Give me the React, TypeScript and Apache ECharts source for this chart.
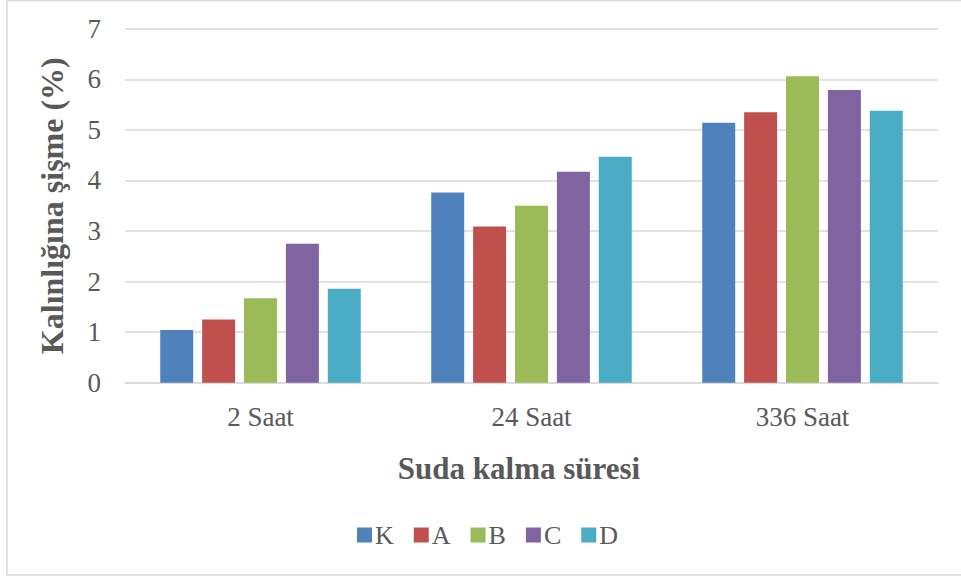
import React, { useEffect, useRef } from "react";
import * as echarts from "echarts";

const categories = ["2 Saat", "24 Saat", "336 Saat"];
const seriesNames = ["K", "A", "B", "C", "D"];
const valuesK = [1.04, 3.76, 5.14];
const valuesA = [1.25, 3.09, 5.35];
const valuesB = [1.67, 3.5, 6.06];
const valuesC = [2.75, 4.17, 5.79];
const valuesD = [1.86, 4.47, 5.38];
const yTicks = [0, 1, 2, 3, 4, 5, 6, 7];
const colors = ["#4f81bd", "#c0504d", "#9bbb59", "#8064a2", "#4bacc6"];

const FONT = '"Liberation Serif", "Times New Roman", serif';
const TEXT = "#595959";

export default function App() {
  const ref = useRef<HTMLDivElement>(null);
  useEffect(() => {
    if (!ref.current) return;
    const chart = echarts.init(ref.current, undefined, { renderer: "svg" });
    const allValues = [valuesK, valuesA, valuesB, valuesC, valuesD];
    chart.setOption({
      animation: false,
      backgroundColor: "#ffffff",
      textStyle: { fontFamily: FONT },
      grid: { left: 125, right: 23, top: 28.7, bottom: 196.3, containLabel: false },
      legend: {
        data: seriesNames,
        left: 352,
        top: 517,
        itemWidth: 15,
        itemHeight: 15,
        itemGap: 20,
        icon: "rect",
        textStyle: { fontFamily: FONT, fontSize: 26, color: TEXT, padding: [0, 0, 0, -2] },
      },
      xAxis: {
        type: "category",
        data: categories,
        axisTick: { show: false },
        axisLine: { lineStyle: { color: "#d9d9d9", width: 1.5 } },
        axisLabel: { fontFamily: FONT, fontSize: 27, color: TEXT, margin: 21 },
      },
      yAxis: {
        type: "value",
        min: yTicks[0],
        max: yTicks[yTicks.length - 1],
        interval: 1,
        name: "Kalınlığına şişme (%)",
        nameLocation: "middle",
        nameGap: 57,
        nameTextStyle: { fontFamily: FONT, fontSize: 32, fontWeight: "bold", color: TEXT },
        axisLine: { show: false },
        axisTick: { show: false },
        splitLine: { lineStyle: { color: "#d9d9d9", width: 1.5 } },
        axisLabel: { fontFamily: FONT, fontSize: 27, color: TEXT, margin: 24 },
      },
      series: seriesNames.map((name, i) => ({
        name,
        type: "bar",
        data: allValues[i],
        barGap: "27%",
        barCategoryGap: "26%",
        itemStyle: { color: colors[i] },
      })),
      graphic: [
        {
          type: "rect",
          shape: { x: 7, y: 0.5, width: 970, height: 574.5 },
          style: { fill: "none", stroke: "#d9d9d9", lineWidth: 1.5 },
          z: 100,
        },
        {
          type: "text",
          x: 519,
          y: 468,
          style: {
            text: "Suda kalma süresi",
            fontFamily: FONT,
            fontSize: 31,
            fontWeight: "bold",
            fill: TEXT,
            align: "center",
            verticalAlign: "middle",
          },
        },
      ],
    });
    return () => chart.dispose();
  }, []);
  return <div ref={ref} style={{ width: 961, height: 579, position: "absolute", left: 0, top: 0 }} />;
}
